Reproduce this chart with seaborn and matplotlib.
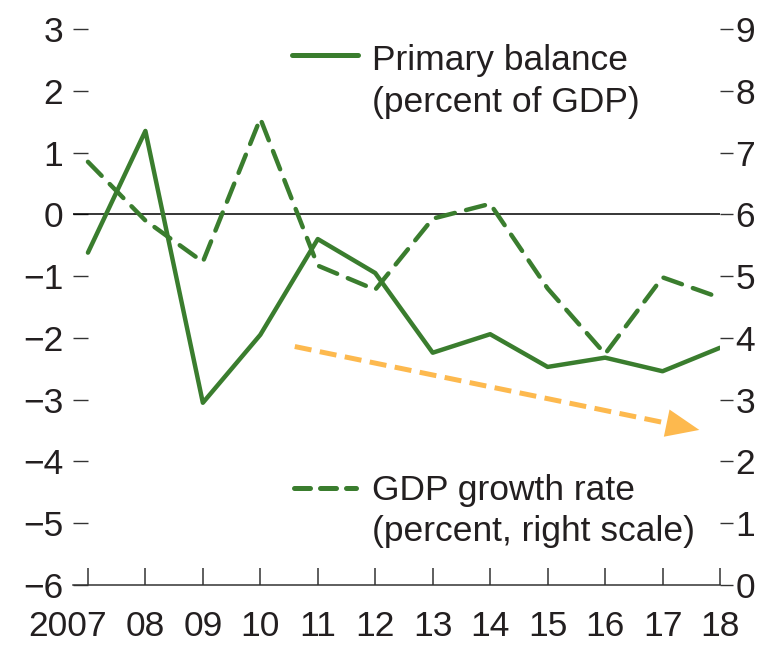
import matplotlib
matplotlib.use("Agg")
import matplotlib.pyplot as plt
import matplotlib.transforms as mtransforms
import seaborn as sns
import pandas as pd

# ---- data ----
years = [2007, 2008, 2009, 2010, 2011, 2012, 2013, 2014, 2015, 2016, 2017, 2018]
year_labels = ["2007", "08", "09", "10", "11", "12", "13", "14", "15", "16", "17", "18"]
primary_balance = [-0.62, 1.35, -3.05, -1.95, -0.40, -0.95, -2.24, -1.94, -2.47, -2.32, -2.54, -2.16]
gdp_growth = [6.85, 5.90, 5.23, 7.55, 5.17, 4.78, 5.93, 6.17, 4.80, 3.74, 4.98, 4.65]
left_ticks = [-6, -5, -4, -3, -2, -1, 0, 1, 2, 3]
right_ticks = [0, 1, 2, 3, 4, 5, 6, 7, 8, 9]
trend_x = [2010.6, 2017.64]
trend_y = [3.86, 2.51]

df = pd.DataFrame({"year": years, "primary": primary_balance, "gdp": gdp_growth})

sns.set_theme(style="white")
plt.rcParams["font.family"] = ["Liberation Sans", "DejaVu Sans"]
plt.rcParams["axes.unicode_minus"] = True
fs = 25.5

GREEN = "#3A7D2E"
ORANGE = "#FDB94E"
TXT = "#231F20"

fig = plt.figure(figsize=(7.65, 6.45), dpi=100)
ax = fig.add_axes([73 / 765, 60 / 645, 647 / 765, 556 / 645])
ax2 = ax.twinx()

sns.lineplot(data=df, x="year", y="primary", ax=ax, color=GREEN, linewidth=3.2)
sns.lineplot(data=df, x="year", y="gdp", ax=ax2, color=GREEN, linewidth=3.2)
gl = ax2.get_lines()[-1]
gl.set_dashes([4.4, 2.6])
gl.set_dash_capstyle("round")
ax.get_lines()[-1].set_solid_capstyle("round")

ax.axhline(0, color="black", linewidth=1.1, zorder=1)

# trend arrow
ax2.plot([trend_x[0], trend_x[1] - 0.42], [trend_y[0], trend_y[1] + 0.081],
         color=ORANGE, linewidth=3.6, dashes=[3.4, 1.7])
ax2.annotate("", xy=(trend_x[1], trend_y[1]), xytext=(trend_x[1] - 0.5, trend_y[1] + 0.097),
             arrowprops=dict(arrowstyle="-|>,head_length=1.2,head_width=0.5",
                             color=ORANGE, mutation_scale=20, linewidth=0, shrinkA=0, shrinkB=0))

ax.set_xlim(2006.74, 2018)
ax.set_ylim(-6, 3)
ax2.set_ylim(0, 9)
ax.set_xticks(years)
ax.set_xticklabels(year_labels)
ax.set_yticks(left_ticks)
ax2.set_yticks(right_ticks)
ax.set_xlabel("")
ax.set_ylabel("")
ax2.set_ylabel("")

for s in ["top", "left", "right"]:
    ax.spines[s].set_visible(False)
for s in ["top", "left", "right", "bottom"]:
    ax2.spines[s].set_visible(False)
ax.spines["bottom"].set_color("#333333")
ax.spines["bottom"].set_linewidth(1.1)

ax.tick_params(axis="x", direction="in", length=12, width=1.1, color="#333333",
               pad=18, labelsize=fs, labelcolor=TXT, bottom=True)
ax.tick_params(axis="y", direction="in", length=11, width=1.0, color="#333333",
               pad=7, labelsize=fs, labelcolor=TXT, left=True)
ax2.tick_params(axis="y", direction="out", length=9, width=1.0, color="#333333",
                pad=2, labelsize=fs, labelcolor=TXT, right=True)

# shift the first year label left, as in the reference
first = ax.get_xticklabels()[0]
first.set_transform(first.get_transform() +
                    mtransforms.ScaledTranslation(-20 / 100, 0, fig.dpi_scale_trans))

# legend (manual)
def px(x, y):
    return ((x - 73) / 647, (585 - y) / 556)

h1 = [px(292, 55), px(358, 55)]
ax.plot([h1[0][0], h1[1][0]], [h1[0][1], h1[1][1]], transform=ax.transAxes,
        color=GREEN, linewidth=3.6, solid_capstyle="round", clip_on=False)
h2 = [px(294, 488), px(356, 488)]
ax.plot([h2[0][0], h2[1][0]], [h2[0][1], h2[1][1]], transform=ax.transAxes,
        color=GREEN, linewidth=3.6, dashes=[3.2, 2.0], dash_capstyle="round", clip_on=False)

for (x, y, s) in [(372, 70, "Primary balance"), (372, 112, "(percent of GDP)"),
                  (372, 500, "GDP growth rate"), (372, 541, "(percent, right scale)")]:
    tx, ty = px(x, y)
    ax.text(tx, ty, s, transform=ax.transAxes, fontsize=fs, color=TXT,
            ha="left", va="baseline")

fig.savefig("out.png", dpi=100)
